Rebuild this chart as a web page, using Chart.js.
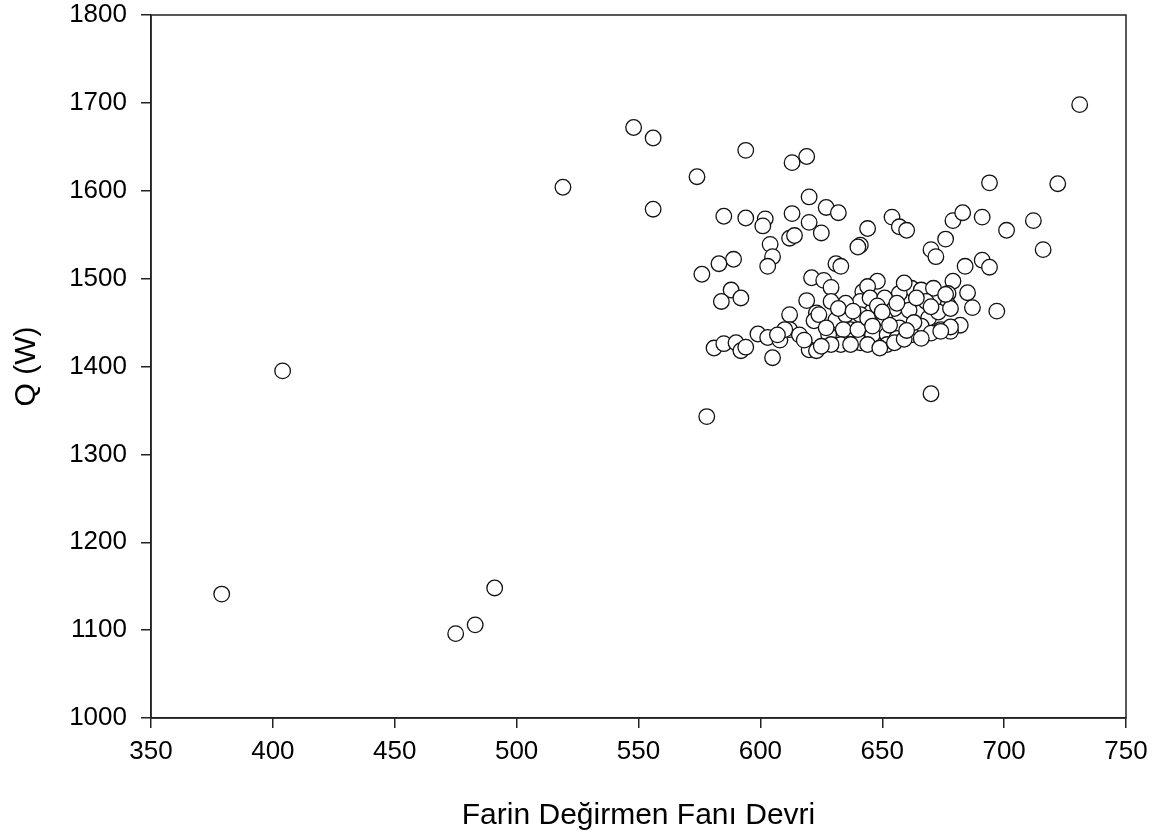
<!DOCTYPE html>
<html>
<head>
<meta charset="utf-8">
<script src="https://cdn.jsdelivr.net/npm/chart.js@4"></script>
<style>
  html, body { margin: 0; padding: 0; background: #fff; }
  #wrap { width: 1167px; height: 838px; }
</style>
</head>
<body>
<div id="wrap"><canvas id="scatter"></canvas></div>
<script>
    // 축 범위 / 눈금
    const xTicks = [350, 400, 450, 500, 550, 600, 650, 700, 750];
    const yTicks = [1000, 1100, 1200, 1300, 1400, 1500, 1600, 1700, 1800];

    // 팬 회전수 (rpm)
    const fanSpeed = [
        379, 404, 475, 483, 491, 519, 548, 556, 556, 574,
        576, 578, 585, 594, 594, 602, 601, 613, 619, 620,
        627, 632, 613, 620, 625, 612, 614, 604, 605, 603,
        589, 583, 588, 592, 584, 631, 633, 621, 626, 629,
        619, 629, 612, 623, 622, 599, 603, 608, 612, 616,
        620, 623, 581, 585, 590, 592, 594, 605, 694, 722,
        654, 657, 660, 644, 641, 640, 679, 683, 691, 701,
        712, 716, 676, 670, 672, 691, 694, 684, 648, 679,
        685, 687, 697, 682, 670, 731,
        642, 641, 635, 624, 631, 635, 641, 637, 634, 610,
        607, 628, 633, 629, 625, 641, 640, 662, 666, 671,
        657, 644, 677, 645, 651, 668, 655, 661, 677, 644,
        651, 669, 673, 657, 666, 674, 646, 652, 662, 670,
        644, 652, 656, 678, 678, 676, 678, 674,
        649, 655, 659, 637, 659, 632, 648, 638, 646, 653,
        663, 627, 618, 656, 664, 670, 660, 666, 650
    ];

    // 열량 Q (W)
    const heatQ = [
        1141, 1395, 1096, 1106, 1148, 1604, 1672, 1660, 1579, 1616,
        1505, 1343, 1571, 1646, 1569, 1568, 1560, 1632, 1639, 1593,
        1581, 1575, 1574, 1564, 1552, 1546, 1549, 1539, 1525, 1514,
        1522, 1517, 1487, 1478, 1474, 1517, 1514, 1501, 1498, 1490,
        1475, 1474, 1459, 1461, 1452, 1437, 1433, 1430, 1442, 1436,
        1419, 1418, 1421, 1426, 1427, 1418, 1422, 1410, 1609, 1608,
        1570, 1559, 1555, 1557, 1538, 1536, 1566, 1575, 1570, 1555,
        1566, 1533, 1545, 1533, 1525, 1521, 1513, 1514, 1497, 1497,
        1484, 1467, 1463, 1447, 1369, 1698,
        1485, 1474, 1472, 1459, 1453, 1459, 1459, 1442, 1442, 1442,
        1436, 1436, 1425, 1425, 1423, 1427, 1442, 1489, 1487, 1489,
        1483, 1491, 1483, 1478, 1478, 1474, 1466, 1464, 1470, 1455,
        1455, 1455, 1462, 1444, 1446, 1442, 1436, 1436, 1436, 1438,
        1425, 1425, 1432, 1440, 1466, 1482, 1445, 1440,
        1421, 1427, 1431, 1425, 1495, 1466, 1469, 1463, 1446, 1447,
        1450, 1444, 1430, 1472, 1478, 1468, 1441, 1432, 1462
    ];

    const points = fanSpeed.map((x, i) => ({ x: x, y: heatQ[i] }));

    const axisColor = '#222';
    const fontFamily = '"Liberation Sans", Arial, sans-serif';

    // 플롯 영역 테두리 (상/우 포함)
    const frameBox = {
        id: 'frameBox',
        afterDraw(chart) {
            const a = chart.chartArea;
            const ctx = chart.ctx;
            ctx.save();
            ctx.strokeStyle = axisColor;
            ctx.lineWidth = 1.5;
            ctx.strokeRect(a.left, a.top, a.right - a.left, a.bottom - a.top);
            ctx.restore();
        }
    };

    new Chart(document.getElementById('scatter'), {
        type: 'scatter',
        data: {
            datasets: [{
                data: points,
                pointStyle: 'circle',
                pointRadius: 7.8,
                pointHoverRadius: 7.8,
                pointBorderWidth: 1.3,
                pointBorderColor: '#111',
                pointBackgroundColor: '#fff'
            }]
        },
        options: {
            responsive: true,
            maintainAspectRatio: false,
            animation: false,
            layout: { padding: { top: 15, right: 41, left: 0, bottom: 0 } },
            plugins: {
                legend: { display: false },
                tooltip: { enabled: false }
            },
            scales: {
                x: {
                    type: 'linear',
                    min: xTicks[0],
                    max: xTicks[xTicks.length - 1],
                    afterBuildTicks: s => { s.ticks = xTicks.map(v => ({ value: v })); },
                    afterFit: s => {
                        s.height = 120;
                        s.paddingLeft = 0;
                        s.paddingRight = 0;
                    },
                    grid: { drawOnChartArea: false, tickLength: 10, color: axisColor, lineWidth: 1.5 },
                    border: { color: axisColor, width: 1.5 },
                    ticks: {
                        color: '#000', padding: 8,
                        font: { family: fontFamily, size: 26 },
                        callback: v => String(v)
                    },
                    title: {
                        display: true,
                        text: 'Farin Değirmen Fanı Devri',
                        color: '#000',
                        padding: { bottom: 4 },
                        font: { family: fontFamily, size: 30 }
                    }
                },
                y: {
                    type: 'linear',
                    min: yTicks[0],
                    max: yTicks[yTicks.length - 1],
                    afterBuildTicks: s => { s.ticks = yTicks.map(v => ({ value: v })); },
                    afterFit: s => {
                        s.width = 151;
                        s.paddingTop = 0;
                        s.paddingBottom = 0;
                    },
                    grid: { drawOnChartArea: false, tickLength: 10, color: axisColor, lineWidth: 1.5 },
                    border: { color: axisColor, width: 1.5 },
                    ticks: {
                        color: '#000', padding: 14,
                        font: { family: fontFamily, size: 26 },
                        callback: v => String(v)
                    },
                    title: {
                        display: true,
                        text: 'Q (W)',
                        color: '#000',
                        padding: { top: 9 },
                        font: { family: fontFamily, size: 30 }
                    }
                }
            }
        },
        plugins: [frameBox]
    });
</script>
</body>
</html>
